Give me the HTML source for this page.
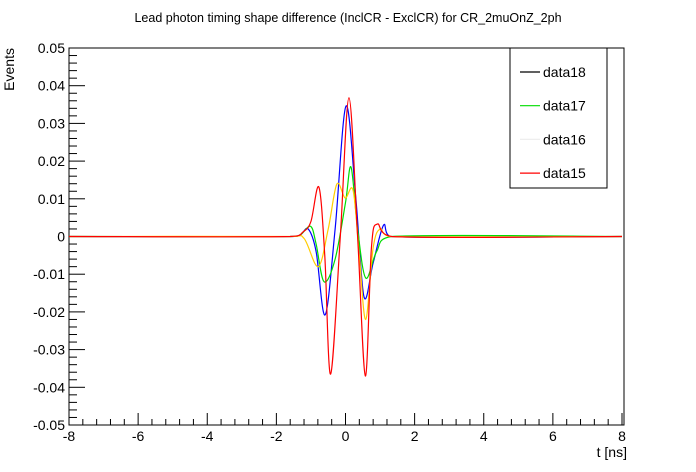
<!DOCTYPE html>
<html><head><meta charset="utf-8"><style>
body{margin:0;background:#fff}
svg{display:block;font-family:"Liberation Sans",sans-serif}
</style></head><body>
<svg id="c" width="696" height="472"></svg>
<script>
const tickX=[-8,-6,-4,-2,0,2,4,6,8];
const tickY=[-0.05,-0.04,-0.03,-0.02,-0.01,0,0.01,0.02,0.03,0.04,0.05];
const seriesNames=["data18","data17","data16","data15"];
const t18=[-8,-1.6,-1.3,-1.08,-0.85,-0.59,-0.3,0.015,0.3,0.535,0.8,1.1,1.3,8];
const y18=[0,0,0.0005,0.002,-0.004,-0.0208,0.002,0.0346,0.01,-0.016,-0.007,0.003,0,0];
const t17=[-8,-1.6,-1.3,-1.01,-0.85,-0.62,-0.3,0.0,0.16,0.35,0.585,0.9,1.33,8];
const y17=[0,0,0.0005,0.0027,-0.002,-0.012,-0.006,0.009,0.0184,0.002,-0.011,-0.004,0,0];
const t16=[-8,-1.6,-1.2,-0.79,-0.5,-0.25,-0.01,0.22,0.4,0.585,0.8,1.0,1.3,8];
const y16=[0,0,-0.0005,-0.008,0.002,0.0139,0.0102,0.0122,-0.005,-0.022,-0.003,0.002,0,0];
const t15=[-8,-1.6,-1.23,-1.0,-0.77,-0.6,-0.43,-0.15,0.1,0.35,0.575,0.75,0.92,1.34,8];
const y15=[0,0,0.0012,0.004,0.0131,-0.005,-0.0365,0.0,0.0368,0.0,-0.037,-0.003,0.0033,0,0];
const colors=["#0000ff","#00dd00","#ffcc00","#ff0000"];
const legendColors=["#000000","#00dd00","#eeeeee","#ff0000"];
const X0=69,X1=622,Y0=425,Y1=48;
const sx=t=>X0+(t+8)/16*(X1-X0);
const sy=v=>Y0-(v+0.05)/0.1*(Y0-Y1);
const svg=document.getElementById('c');
const NS="http://www.w3.org/2000/svg";
function mk(tag,attrs,parent){const e=document.createElementNS(NS,tag);for(const k in attrs)e.setAttribute(k,attrs[k]);(parent||svg).appendChild(e);return e;}
let e;
e=mk('rect',{x:X0,y:Y1,width:X1-X0+2,height:Y0-Y1,fill:'none',stroke:'#000','stroke-width':1});


e=mk('text',{x:348,y:22,'font-size':12.5,'text-anchor':'middle'});e.textContent="Lead photon timing shape difference (InclCR - ExclCR) for CR_2muOnZ_2ph";


// x ticks
for(let i=0;i<tickX.length;i++){
 const x=sx(tickX[i]);
 mk('line',{x1:x,x2:x,y1:Y0,y2:Y0-12,stroke:'#000'});
 e=mk('text',{x:x,y:Y0+16,'font-size':14,'text-anchor':'middle'});e.textContent=tickX[i];
 
 
 if(i<tickX.length-1)for(let j=1;j<5;j++){const xm=sx(tickX[i]+j*0.4);mk('line',{x1:xm,x2:xm,y1:Y0,y2:Y0-6,stroke:'#000'});}
}
for(let i=0;i<tickY.length;i++){
 const y=sy(tickY[i]);
 mk('line',{x1:X0,x2:X0+16,y1:y,y2:y,stroke:'#000'});
 e=mk('text',{x:X0-4,y:y+5,'font-size':14,'text-anchor':'end'});e.textContent=tickY[i]===0?"0":tickY[i].toFixed(2);
 
 
 if(i<tickY.length-1)for(let j=1;j<5;j++){const ym=sy(tickY[i]+j*0.002);mk('line',{x1:X0,x2:X0+8,y1:ym,y2:ym,stroke:'#000'});}
}
e=mk('text',{x:627,y:457,'font-size':14,'text-anchor':'end'});e.textContent="t [ns]";


e=mk('text',{x:0,y:0,'font-size':14,'text-anchor':'end',transform:'translate(14,48) rotate(-90)'});e.textContent="Events";


function pathFor(ts,ys){
 const p=ts.map((t,i)=>[sx(t),sy(ys[i])]);
 let d="M"+p[0][0]+","+p[0][1];
 for(let i=0;i<p.length-1;i++){
  const p0=p[Math.max(0,i-1)],p1=p[i],p2=p[i+1],p3=p[Math.min(p.length-1,i+2)];
  let c1x=p1[0]+(p2[0]-p0[0])/6,c1y=p1[1]+(p2[1]-p0[1])/6;
  let c2x=p2[0]-(p3[0]-p1[0])/6,c2y=p2[1]-(p3[1]-p1[1])/6;
  c1x=Math.min(Math.max(c1x,p1[0]),p2[0]);c2x=Math.min(Math.max(c2x,p1[0]),p2[0]);
  d+=` C${c1x},${c1y} ${c2x},${c2y} ${p2[0]},${p2[1]}`;
 }
 return d;
}
const T=[t18,t17,t16,t15],Y=[y18,y17,y16,y15];
for(let s=0;s<4;s++){
 e=mk('path',{d:pathFor(T[s],Y[s]),fill:'none',stroke:colors[s],'stroke-width':1.2});
 
 
}
e=mk('rect',{x:510,y:48,width:97,height:140,fill:'#fff',stroke:'#000'});


for(let s=0;s<4;s++){
 const y=72+s*33.7;
 mk('line',{x1:520,x2:540,y1:y,y2:y,stroke:legendColors[s],'stroke-width':1.2});
 e=mk('text',{x:543,y:y+5,'font-size':14});e.textContent=seriesNames[s];
 
 
}
</script>
</body></html>
